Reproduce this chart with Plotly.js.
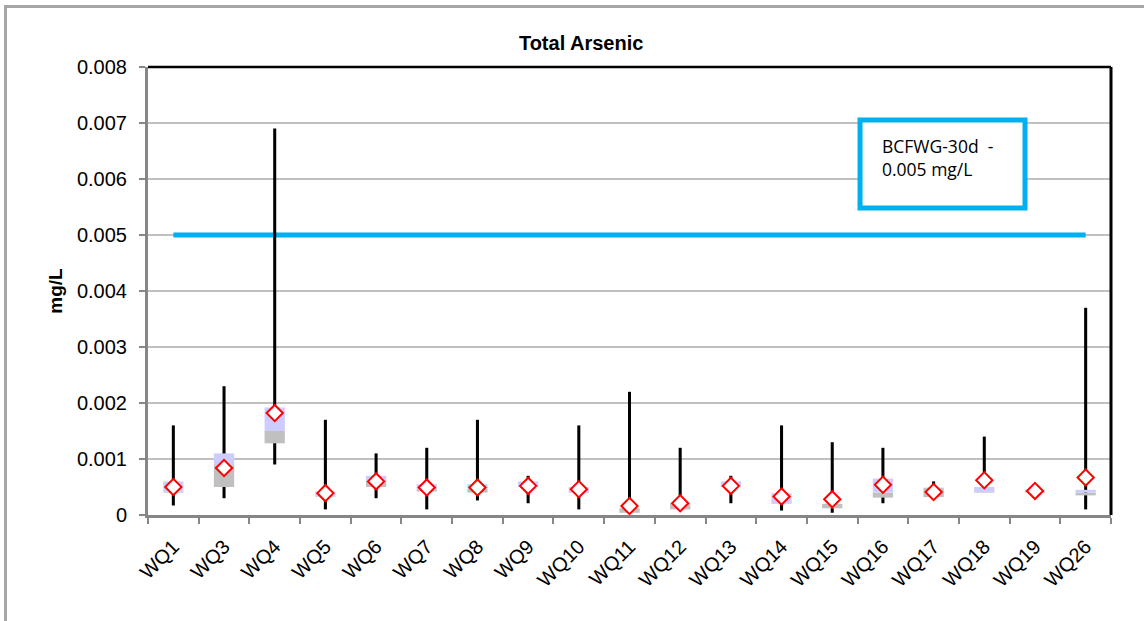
<!DOCTYPE html>
<html>
<head>
<meta charset="utf-8">
<script src="https://cdn.plot.ly/plotly-3.0.1.min.js"></script>
<style>
  html, body { margin: 0; padding: 0; background: #fff; }
  #wrap { position: relative; width: 1144px; height: 621px; }
  #chart { position: absolute; left: 0; top: 0; width: 1144px; height: 621px; }
  #frame { position: absolute; left: 4px; top: 5px; width: 1140px; height: 616px;
           border-left: 3px solid #a6a6a6; border-top: 3px solid #a6a6a6;
           box-sizing: border-box; pointer-events: none; }
</style>
</head>
<body>
<div id="wrap">
  <div id="chart"></div>
  <div id="frame"></div>
</div>
<script>
// Monitoring stations
const stations = ['WQ1', 'WQ3', 'WQ4', 'WQ5', 'WQ6', 'WQ7', 'WQ8', 'WQ9', 'WQ10', 'WQ11',
                  'WQ12', 'WQ13', 'WQ14', 'WQ15', 'WQ16', 'WQ17', 'WQ18', 'WQ19', 'WQ26'];

// Total arsenic summary statistics (mg/L)
const minVals = [0.00017, 0.0003, 0.0009, 0.0001, 0.0003, 0.0001, 0.00026, 0.00021, 0.0001, 0.00003,
                 0.0001, 0.00021, 0.00008, 0.00004, 0.00021, 0.0003, 0.00045, 0.0004, 0.0001];
const maxVals = [0.0016, 0.0023, 0.0069, 0.0017, 0.0011, 0.0012, 0.0017, 0.0007, 0.0016, 0.0022,
                 0.0012, 0.0007, 0.0016, 0.0013, 0.0012, 0.0006, 0.0014, 0.00045, 0.0037];
const q1Vals = [0.0004, 0.0005, 0.00128, 0.00032, 0.0005, 0.00042, 0.0004, 0.0005, 0.00039, 0.00004,
                0.0001, 0.0005, 0.0002, 0.00012, 0.00031, 0.00032, 0.0004, 0.0004, 0.00035];
const medianVals = [0.00042, 0.00089, 0.0015, 0.00033, 0.00061, 0.00046, 0.00047, 0.00051, 0.0004, 0.00012,
                    0.00021, 0.00051, 0.00021, 0.0002, 0.0004, 0.00048, 0.00041, 0.00041, 0.0004];
const q3Vals = [0.0006, 0.0011, 0.00192, 0.00042, 0.0007, 0.00055, 0.00055, 0.0006, 0.0005, 0.00012,
                0.00021, 0.0006, 0.00039, 0.0002, 0.00065, 0.00049, 0.0005, 0.00045, 0.00045];
const meanVals = [0.0005, 0.00084, 0.00182, 0.00039, 0.0006, 0.00049, 0.00049, 0.00052, 0.00046, 0.00016,
                  0.00021, 0.00052, 0.00033, 0.00028, 0.00054, 0.00041, 0.00062, 0.00043, 0.00067];

// Value axis ticks
const yTickVals = [0, 0.001, 0.002, 0.003, 0.004, 0.005, 0.006, 0.007, 0.008];
const yTickText = ['0', '0.001', '0.002', '0.003', '0.004', '0.005', '0.006', '0.007', '0.008'];

// Guideline
const guidelineValue = 0.005;
const guidelineLabel = 'BCFWG-30d  -<br>0.005 mg/L';

const font = 'Liberation Sans, Arial, sans-serif';

const whiskers = {
  type: 'bar', x: stations, base: minVals,
  y: maxVals.map((v, i) => v - minVals[i]),
  width: 0.06, marker: { color: '#000000', line: { width: 0 } },
  hoverinfo: 'skip', showlegend: false
};
const lowerBox = {
  type: 'bar', x: stations, base: q1Vals,
  y: medianVals.map((v, i) => v - q1Vals[i]),
  width: 0.4, marker: { color: '#c0c0c0', line: { width: 0 } },
  hoverinfo: 'skip', showlegend: false
};
const upperBox = {
  type: 'bar', x: stations, base: medianVals,
  y: q3Vals.map((v, i) => v - medianVals[i]),
  width: 0.4, marker: { color: '#ccccff', line: { width: 0 } },
  hoverinfo: 'skip', showlegend: false
};
const means = {
  type: 'scatter', mode: 'markers', x: stations, y: meanVals,
  marker: { symbol: 'diamond', size: 12.5, color: '#ffffff', line: { color: '#ff0000', width: 2 } },
  hoverinfo: 'skip', showlegend: false, cliponaxis: false
};

const layout = {
  width: 1144, height: 621,
  margin: { l: 148, r: 33, t: 67, b: 106, pad: 0 },
  paper_bgcolor: '#ffffff', plot_bgcolor: '#ffffff',
  font: { family: font, color: '#000000', size: 20 },
  barmode: 'overlay',
  showlegend: false,
  title: {
    text: '<b>Total Arsenic</b>', font: { family: font, size: 20, color: '#000000' },
    x: 0.508, xref: 'container', xanchor: 'center',
    y: 1 - 43 / 621, yref: 'container', yanchor: 'middle'
  },
  xaxis: {
    type: 'category', range: [-0.5, stations.length - 0.5],
    tickson: 'boundaries', tickangle: -45,
    showgrid: false, showline: true, linecolor: '#868686', linewidth: 3,
    ticks: 'outside', ticklen: 6, tickwidth: 2, tickcolor: '#868686',
    tickfont: { family: font, size: 20, color: '#000000' },
    ticklabelstandoff: 9,
    fixedrange: true
  },
  yaxis: {
    range: [0, 0.008], tickmode: 'array', tickvals: yTickVals, ticktext: yTickText,
    showgrid: true, gridcolor: '#c0c0c0', gridwidth: 2,
    zeroline: false, showline: true, linecolor: '#868686', linewidth: 3,
    ticks: 'outside', ticklen: 6, tickwidth: 2, tickcolor: '#868686',
    tickfont: { family: font, size: 20, color: '#000000' },
    ticklabelstandoff: 8,
    title: { text: '<b>mg/L</b>', font: { family: font, size: 19, color: '#000000' }, standoff: 10 },
    fixedrange: true
  },
  shapes: [
    // guideline drawn between the gridlines and the data marks
    { type: 'line', xref: 'x', yref: 'y', layer: 'between',
      x0: stations[0], x1: stations[stations.length - 1], y0: guidelineValue, y1: guidelineValue,
      line: { color: '#00b0f0', width: 5 } },
    // dark frame on the top and right of the plotting area
    { type: 'line', xref: 'paper', yref: 'paper', x0: 0, x1: 1, y0: 1, y1: 1,
      line: { color: '#000000', width: 2.5 } },
    { type: 'line', xref: 'paper', yref: 'paper', x0: 1, x1: 1, y0: 0, y1: 1,
      line: { color: '#000000', width: 3 } },
    // guideline label box
    { type: 'rect', xref: 'paper', yref: 'paper', layer: 'above',
      x0: 0.7394, x1: 0.9107, y0: 0.6853, y1: 0.8817,
      fillcolor: '#ffffff', line: { color: '#00b0f0', width: 5 } }
  ],
  annotations: [
    { xref: 'paper', yref: 'paper', x: 0.7601, y: 0.797, xanchor: 'left', yanchor: 'middle',
      text: guidelineLabel, showarrow: false, align: 'left',
      font: { family: 'Open Sans, sans-serif', size: 17.5, color: '#000000' } }
  ]
};

Plotly.newPlot('chart', [whiskers, lowerBox, upperBox, means], layout,
               { staticPlot: true, displayModeBar: false });
</script>
</body>
</html>
